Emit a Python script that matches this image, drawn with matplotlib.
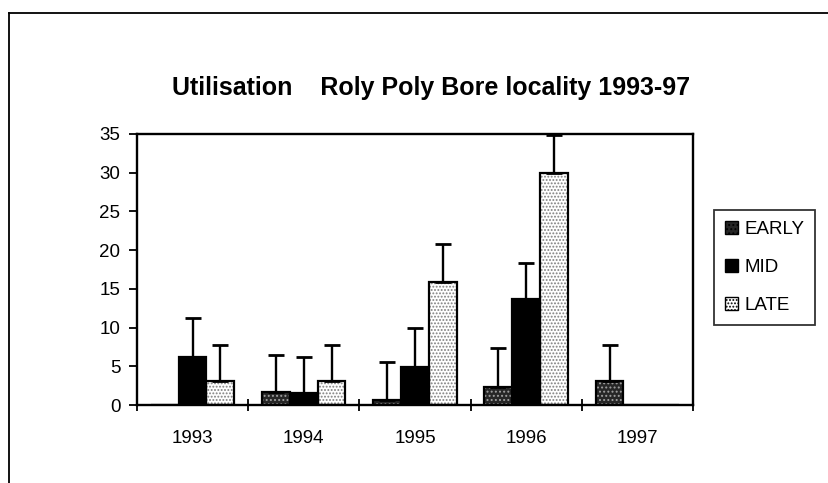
import numpy as np
import matplotlib.pyplot as plt
from matplotlib.lines import Line2D
from matplotlib.patches import Patch

plt.rcParams['font.family'] = ['Liberation Sans', 'DejaVu Sans']
plt.rcParams['hatch.linewidth'] = 0.9

# dane
years = ['1993', '1994', '1995', '1996', '1997']
series = ['EARLY', 'MID', 'LATE']
early = [0, 1.7, 0.7, 2.3, 3.1]
mid = [6.2, 1.5, 4.95, 13.7, 0]
late = [3.1, 3.1, 15.9, 29.9, 0]
err_early = [0, 4.8, 4.9, 5.0, 4.7]
err_mid = [5.1, 4.7, 4.95, 4.7, 0]
err_late = [4.7, 4.7, 4.9, 5.0, 0]

# wygląd serii: kolor tła, kreskowanie, kolor kropek
styles = {
    'EARLY': ('#262626', '....', '#a0a0a0'),
    'MID': ('black', None, 'black'),
    'LATE': ('white', '.....', '#808080'),
}

fig = plt.figure(figsize=(8.29, 4.83), dpi=100)
ax = fig.add_axes([137 / 829, 1 - 405 / 483, (693 - 137) / 829, (405 - 134) / 483])

x = np.arange(len(years))
w = 0.25
data = [early, mid, late]
errs = [err_early, err_mid, err_late]

for i, name in enumerate(series):
    pos = x + (i - 1) * w
    face, hatch, hcol = styles[name]
    # warstwa z wypełnieniem i kropkami
    ax.bar(pos, data[i], width=w, color=face, hatch=hatch, edgecolor=hcol, linewidth=0, zorder=2)
    # obramowanie słupków
    ax.bar(pos, data[i], width=w, fill=False, edgecolor='black', linewidth=1.6, zorder=3)
    e = np.array(errs[i])
    v = np.array(data[i])
    m = e > 0
    ax.errorbar(pos[m], v[m], yerr=[np.zeros(m.sum()), e[m]], fmt='none', ecolor='black',
                elinewidth=1.7, capsize=6, capthick=2.0, zorder=4, clip_on=False)

ax.set_xlim(-0.5, len(years) - 0.5)
ax.set_ylim(0, 35)
ax.set_yticks(np.arange(0, 36, 5))
ax.set_xticks(np.arange(-0.5, len(years), 1))
ax.set_xticklabels([])
ax.set_xticks(x, minor=True)
ax.set_xticklabels(years, minor=True)
ax.tick_params(axis='y', direction='out', length=6, width=1.3, pad=6, labelsize=13.5)
ax.tick_params(axis='x', which='major', direction='inout', length=9, width=1.3)
ax.tick_params(axis='x', which='minor', length=0, pad=18, labelsize=13.5)
for s in ax.spines.values():
    s.set_linewidth(1.7)

fig.text(431 / 829, 1 - 88 / 483, 'Utilisation    Roly Poly Bore locality 1993-97',
         ha='center', va='center', fontsize=18, fontweight='bold')

handles = []
for name in series:
    face, hatch, hcol = styles[name]
    handles.append(Patch(facecolor=face, hatch=hatch, edgecolor='black', linewidth=1.0))
leg = fig.legend(handles, series, loc='upper left', bbox_to_anchor=(714 / 829, 1 - 210 / 483),
                 frameon=True, fancybox=False, edgecolor='black', fontsize=13.5,
                 handlelength=0.7, handleheight=0.7, handletextpad=0.3,
                 labelspacing=1.1, borderpad=0.6, borderaxespad=0)
leg.get_frame().set_linewidth(1.3)

# ramka obszaru wykresu (górna i lewa krawędź)
fig.add_artist(Line2D([9 / 829, 1], [1 - 13 / 483, 1 - 13 / 483], color='black', lw=1.3))
fig.add_artist(Line2D([9 / 829, 9 / 829], [0, 1 - 13 / 483], color='black', lw=1.3))

fig.savefig('out.png', dpi=100)
